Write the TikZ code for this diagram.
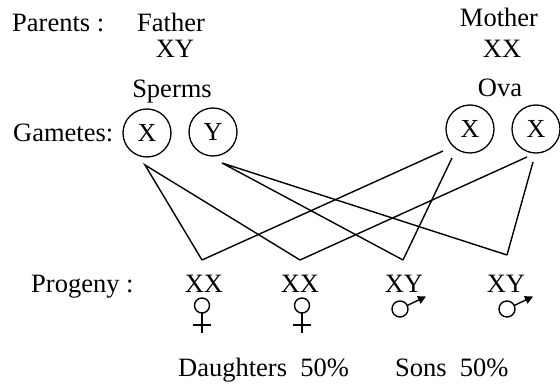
\documentclass[tikz,border=0pt]{standalone}
\usepackage{fontspec}
\setmainfont{Liberation Serif}
\usetikzlibrary{arrows.meta}
\begin{document}
\begin{tikzpicture}[x=1pt,y=-1pt,
  lbl/.style={inner sep=0pt, font=\fontsize{26.5}{30}\selectfont},
  gam/.style={draw, circle, line width=1.3pt, minimum size=48pt, inner sep=0pt, font=\fontsize{26}{30}\selectfont},
  link/.style={line width=1.4pt},
  sym/.style={line width=1.4pt},
  pics/female/.style={code={
    \draw[sym] (0,0) circle (7.5);
    \draw[sym] (0,7.5) -- (0,27.5);
    \draw[sym] (-9,19.5) -- (9,19.5);}},
  pics/male/.style={code={
    \draw[sym] (0,0) circle (8);
    \draw[sym, -{Triangle[length=8pt,width=8pt]}] (7.2,-3.5) -- (26,-12.5);}}
]
\useasboundingbox (0,0) rectangle (560,385);
% parents
\node[lbl, anchor=base west] (parents) at (12,32) {Parents :};
\node[lbl, anchor=base] (father) at (171,32) {Father};
\node[lbl, anchor=base] (fxy) at (175,58) {XY};
\node[lbl, anchor=base] (mother) at (499,27) {Mother};
\node[lbl, anchor=base] (mxx) at (502,58) {XX};
\node[lbl, anchor=base] (sperms) at (172,98) {Sperms};
\node[lbl, anchor=base] (ova) at (500,97) {Ova};
% gametes
\node[lbl, anchor=base west] (gametes) at (13,142) {Gametes:};
\node[gam] (g1) at (147,133) {X};
\node[gam] (g2) at (213,132) {Y};
\node[gam] (o1) at (470,129) {X};
\node[gam] (o2) at (536,129) {X};
% connector ends
\coordinate (a1) at (145,165);
\coordinate (b1) at (222,163);
\coordinate (c1) at (443,151);
\coordinate (c2) at (452,158);
\coordinate (d1) at (527,157);
\coordinate (d2) at (533,162);
\coordinate (v1) at (202,260);
\coordinate (v2) at (300,260);
\coordinate (v3) at (403,260);
\coordinate (v4) at (507,255);
\draw[link] (v1) -- (a1) -- (v2);
\draw[link] (v3) -- (b1) -- (v4);
\draw[link] (c1) -- (v1);
\draw[link] (c2) -- (v3);
\draw[link] (d1) -- (v2);
\draw[link] (d2) -- (v4);
% progeny
\node[lbl, anchor=base west] (progeny) at (31,292) {Progeny :};
\node[lbl, anchor=base] (p1) at (204,292) {XX};
\node[lbl, anchor=base] (p2) at (300,292) {XX};
\node[lbl, anchor=base] (p3) at (404,292) {XY};
\node[lbl, anchor=base] (p4) at (506,292) {XY};
\pic at (202,305.5) {female};
\pic at (302,305.5) {female};
\pic at (400,309) {male};
\pic at (507,309) {male};
\node[lbl, anchor=base west] (daughters) at (178,376) {Daughters\ \ 50\%};
\node[lbl, anchor=base west] (sons) at (395,376) {Sons\ \ 50\%};
\end{tikzpicture}
\end{document}
